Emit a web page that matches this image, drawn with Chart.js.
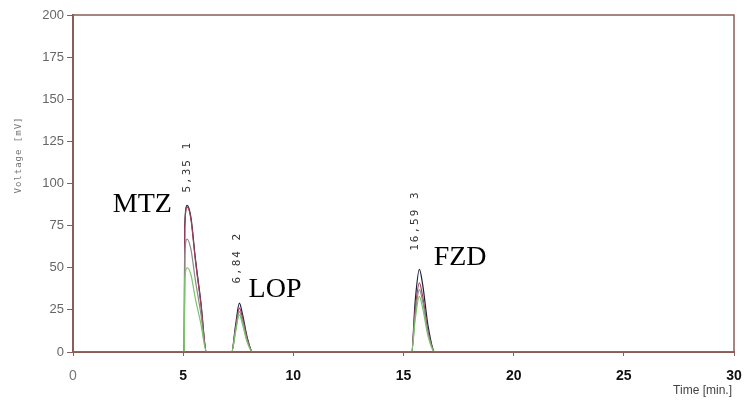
<!DOCTYPE html>
<html>
<head>
<meta charset="utf-8">
<script src="https://cdn.jsdelivr.net/npm/chart.js@4.4.0/dist/chart.umd.min.js"></script>
<style>
  html, body { margin: 0; padding: 0; background: #fff; }
  #wrap { width: 751px; height: 400px; }
</style>
</head>
<body>
<div id="wrap"><canvas id="chrom" width="751" height="400"></canvas></div>
<script>
// Время (мин) — общая ось для всех хроматограмм
const timeMin = [0, 5.05, 5.07, 5.18, 5.35, 5.55, 5.8, 6.06,
                 7.2, 7.38, 7.55, 7.7, 7.9, 8.15,
                 15.37, 15.53, 15.72, 15.87, 16.12, 16.42, 30];

// Сигнал (mV) для каждой инъекции
const seriesBlack  = [0, 0, 74, 87, 80, 56, 30, 0,  0, 16, 29, 22, 9, 0,  0, 30, 49, 40, 15, 0, 0];
const seriesMaroon = [0, 0, 73, 86, 79, 55, 29, 0,  0, 14, 26, 20, 8, 0,  0, 25, 41, 33, 12, 0, 0];
const seriesGray   = [0, 0, 57, 67, 61, 43, 23, 0,  0, 13, 24, 18, 7, 0,  0, 22, 37, 30, 11, 0, 0];
const seriesGreen  = [0, 0, 42, 50, 46, 32, 17, 0,  0, 12, 22, 16, 6, 0,  0, 19, 33, 26, 9, 0, 0];

const xTicks = [0, 5, 10, 15, 20, 25, 30];
const yTicks = [0, 25, 50, 75, 100, 125, 150, 175, 200];

const peakLabels = ['5,35 1', '6,84 2', '16,59 3'];
const compoundNames = ['MTZ', 'LOP', 'FZD'];

const axisColor = '#8b5e5a';

function toPoints(values) {
    return timeMin.map((t, i) => ({ x: t, y: values[i] }));
}

// Подписи пиков, рамка и заголовки осей
const annotations = {
    id: 'annotations',
    afterDatasetsDraw(chart) {
        const ctx = chart.ctx;
        const xs = chart.scales.x, ys = chart.scales.y;
        const area = chart.chartArea;

        ctx.save();
        ctx.strokeStyle = axisColor;
        ctx.lineWidth = 1.5;
        ctx.strokeRect(area.left, area.top, area.right - area.left, area.bottom - area.top);

        // времена удерживания (вертикально)
        const peakPos = [[5.17, 110], [7.44, 56], [15.52, 78]];
        ctx.fillStyle = '#333';
        ctx.font = '11px "DejaVu Sans Mono"';
        ctx.letterSpacing = '2px';
        ctx.textAlign = 'center';
        ctx.textBaseline = 'middle';
        peakLabels.forEach((txt, i) => {
            ctx.save();
            ctx.translate(xs.getPixelForValue(peakPos[i][0]), ys.getPixelForValue(peakPos[i][1]));
            ctx.rotate(-Math.PI / 2);
            ctx.fillText(txt, 0, 0);
            ctx.restore();
        });

        // названия веществ
        const namePos = [[3.15, 83], [9.17, 32.6], [17.57, 51.6]];
        ctx.letterSpacing = '0px';
        ctx.fillStyle = '#000';
        ctx.font = '28px "Liberation Serif"';
        ctx.textBaseline = 'alphabetic';
        compoundNames.forEach((txt, i) => {
            ctx.fillText(txt, xs.getPixelForValue(namePos[i][0]), ys.getPixelForValue(namePos[i][1]));
        });

        // подпись оси Y
        ctx.save();
        ctx.fillStyle = '#777';
        ctx.font = '9px "DejaVu Sans Mono"';
        ctx.letterSpacing = '1px';
        ctx.textBaseline = 'middle';
        ctx.translate(19, 155);
        ctx.rotate(-Math.PI / 2);
        ctx.fillText('Voltage [mV]', 0, 0);
        ctx.restore();

        // подпись оси X
        ctx.fillStyle = '#444';
        ctx.font = '12px "Liberation Sans"';
        ctx.textAlign = 'right';
        ctx.textBaseline = 'middle';
        ctx.fillText('Time [min.]', 732, 391);
        ctx.restore();
    }
};

const common = {
    borderWidth: 1.2,
    pointRadius: 0,
    fill: false,
    cubicInterpolationMode: 'monotone'
};

new Chart(document.getElementById('chrom'), {
    type: 'line',
    data: {
        datasets: [
            { ...common, label: 'green', data: toPoints(seriesGreen), borderColor: '#7cc46a' },
            { ...common, label: 'gray', data: toPoints(seriesGray), borderColor: '#8a8a8a' },
            { ...common, label: 'maroon', data: toPoints(seriesMaroon), borderColor: '#a0405a' },
            { ...common, label: 'black', data: toPoints(seriesBlack), borderColor: '#1e1e3a' }
        ]
    },
    options: {
        responsive: false,
        animation: false,
        layout: { padding: { top: 15, right: 17, left: 0, bottom: 0 } },
        plugins: { legend: { display: false }, tooltip: { enabled: false } },
        scales: {
            x: {
                type: 'linear',
                min: 0,
                max: 30,
                afterFit(scale) { scale.height = 48; scale.paddingLeft = 0; scale.paddingRight = 0; },
                afterBuildTicks(scale) { scale.ticks = xTicks.map(v => ({ value: v })); },
                grid: { drawOnChartArea: false, drawTicks: true, tickLength: 4, color: axisColor },
                border: { color: axisColor, width: 2 },
                ticks: {
                    padding: 12,
                    color: ctx => ctx.tick.value === 0 ? '#777' : '#111',
                    font: ctx => ({ family: '"Liberation Sans"', size: 14, weight: ctx.tick && ctx.tick.value === 0 ? 'normal' : 'bold' })
                }
            },
            y: {
                min: 0,
                max: 200,
                afterFit(scale) { scale.width = 73; scale.paddingTop = 0; scale.paddingBottom = 0; },
                afterBuildTicks(scale) { scale.ticks = yTicks.map(v => ({ value: v })); },
                grid: { drawOnChartArea: false, drawTicks: true, tickLength: 6, color: axisColor },
                border: { color: axisColor, width: 2 },
                ticks: {
                    padding: 3,
                    color: '#666',
                    font: { family: '"Liberation Sans"', size: 13 }
                }
            }
        }
    },
    plugins: [annotations]
});
</script>
</body>
</html>
